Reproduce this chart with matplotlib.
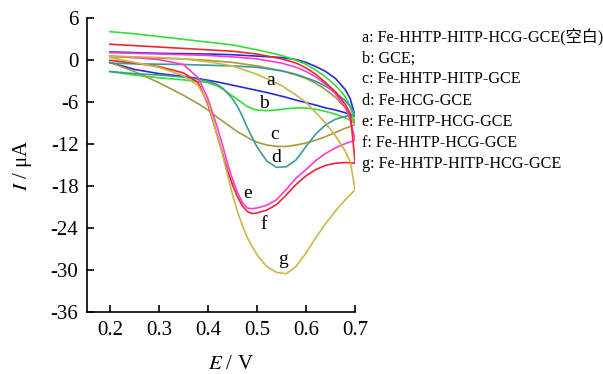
import numpy as np
import matplotlib
matplotlib.use("Agg")
from matplotlib import pyplot as plt

plt.rcParams['font.family'] = ['Liberation Serif', 'Noto Sans CJK SC']
plt.rcParams['mathtext.fontset'] = 'stix'

# forward scan (0.2 -> 0.7 V), current in uA
E_fwd = [0.20, 0.25, 0.30, 0.35, 0.40, 0.45, 0.50, 0.55, 0.58, 0.60, 0.62, 0.64, 0.66, 0.68, 0.69, 0.70]
a_fwd = [1.2, 1.1, 1.0, 0.95, 0.9, 0.8, 0.6, 0.4, 0.1, -0.3, -0.9, -1.6, -2.6, -4.2, -5.5, -8.0]
b_fwd = [4.1, 3.8, 3.4, 3.0, 2.6, 2.2, 1.5, 0.7, 0.0, -0.6, -1.4, -2.4, -3.6, -5.2, -6.6, -9.0]
c_fwd = [0.5, 0.4, 0.3, 0.2, 0.0, -0.3, -0.8, -1.5, -2.1, -2.6, -3.3, -4.2, -5.3, -6.8, -7.8, -9.2]
d_fwd = [-0.4, -0.5, -0.55, -0.6, -0.7, -0.8, -1.0, -1.5, -2.0, -2.5, -3.0, -3.7, -4.6, -5.8, -6.6, -7.8]
e_fwd = [1.1, 1.0, 0.9, 0.8, 0.7, 0.5, 0.2, -0.4, -1.0, -1.6, -2.4, -3.4, -4.8, -6.8, -8.5, -11.4]
f_fwd = [2.3, 2.1, 1.9, 1.7, 1.5, 1.3, 0.9, 0.2, -0.4, -1.1, -2.0, -3.2, -4.5, -6.3, -7.6, -14.7]
g_fwd = [0.6, 0.5, 0.4, 0.2, -0.2, -0.8, -2.0, -3.6, -5.0, -6.0, -7.5, -9.0, -10.8, -13.0, -14.5, -18.5]

# reverse scan (listed from 0.2 to 0.7, drawn back from 0.7)
E_rev = [0.20, 0.25, 0.30, 0.35, 0.38, 0.40, 0.42, 0.43, 0.44, 0.45, 0.46, 0.47, 0.48,
         0.49, 0.50, 0.52, 0.54, 0.56, 0.58, 0.60, 0.62, 0.64, 0.66, 0.68, 0.70]
a_rev = [-0.3, -1.3, -1.9, -2.3, -2.6, -2.85, -3.1, -3.25, -3.4, -3.55, -3.7, -3.85, -4.0,
         -4.15, -4.3, -4.6, -4.95, -5.3, -5.7, -6.05, -6.4, -6.8, -7.1, -7.5, -8.0]
b_rev = [-1.6, -2.1, -2.5, -2.8, -3.0, -3.2, -3.7, -4.1, -4.6, -5.1, -5.6, -6.1, -6.6,
         -6.9, -7.1, -7.2, -7.1, -6.9, -6.8, -6.8, -7.0, -7.3, -7.7, -8.2, -9.0]
c_rev = [-0.3, -1.6, -3.2, -5.0, -6.2, -7.1, -8.2, -8.7, -9.2, -9.7, -10.2, -10.6, -11.0,
         -11.4, -11.7, -12.1, -12.3, -12.3, -12.1, -11.8, -11.4, -10.9, -10.3, -9.7, -9.2]
d_rev = [-1.6, -1.9, -2.1, -2.4, -2.7, -3.0, -3.5, -4.0, -4.7, -5.5, -6.6, -8.0, -9.6,
         -11.0, -12.4, -14.4, -15.3, -15.2, -14.2, -12.3, -10.5, -9.2, -8.4, -8.0, -7.8]
e_rev = [0.6, 0.4, 0.1, -0.6, -2.5, -5.5, -9.8, -12.2, -14.8, -17.0, -18.9, -20.3, -21.1,
         -21.2, -21.1, -20.7, -19.9, -18.4, -16.8, -15.6, -14.3, -13.3, -12.5, -11.9, -11.4]
f_rev = [0.0, -0.4, -0.9, -1.8, -3.2, -6.3, -11.0, -13.4, -15.8, -17.8, -19.5, -20.8, -21.6,
         -21.9, -21.8, -21.4, -20.6, -19.2, -17.7, -16.5, -15.6, -15.0, -14.7, -14.6, -14.7]
g_rev = [0.4, -0.3, -1.0, -2.2, -3.6, -6.0, -11.0, -13.6, -16.4, -19.2, -21.6, -23.6, -25.3,
         -26.6, -27.8, -29.5, -30.3, -30.5, -29.4, -27.5, -25.3, -23.3, -21.5, -19.9, -18.5]

names = ['a', 'b', 'c', 'd', 'e', 'f', 'g']
fwd = [a_fwd, b_fwd, c_fwd, d_fwd, e_fwd, f_fwd, g_fwd]
rev = [a_rev, b_rev, c_rev, d_rev, e_rev, f_rev, g_rev]
colors = ['#2a2ad6', '#33e033', '#a59a3c', '#3c9a9a', '#ff3bd0', '#ee2630', '#c8b84a']
legend_text = ['a: Fe-HHTP-HITP-HCG-GCE(空白)', 'b: GCE;', 'c: Fe-HHTP-HITP-GCE',
               'd: Fe-HCG-GCE', 'e: Fe-HITP-HCG-GCE', 'f: Fe-HHTP-HCG-GCE',
               'g: Fe-HHTP-HITP-HCG-GCE']
label_pos = [(0.527, -2.9), (0.515, -6.2), (0.536, -10.6), (0.538, -13.9),
             (0.481, -19.0), (0.513, -23.5), (0.552, -28.4)]

fig = plt.figure(figsize=(6.03, 3.74), dpi=100)
ax = fig.add_axes([0.144, 0.165, 0.445, 0.786])

for i in range(len(names)):
    x = E_fwd + E_rev[::-1]
    y = fwd[i] + rev[i][::-1]
    ax.plot(x, y, color=colors[i], lw=1.2)
    ax.text(label_pos[i][0], label_pos[i][1], names[i], fontsize=14,
            ha='center', va='center')

ax.set_xlim(0.153, 0.70)
ax.set_ylim(-36, 6)
ax.set_xticks([0.2, 0.3, 0.4, 0.5, 0.6, 0.7])
ax.set_yticks([6, 0, -6, -12, -18, -24, -30, -36])
ax.set_yticklabels(['6', '0', '-6', '-12', '-18', '-24', '-30', '-36'])
ax.tick_params(direction='in', length=5, width=1.2, labelsize=15, pad=6)
for s in ['top', 'right']:
    ax.spines[s].set_visible(False)
for s in ['left', 'bottom']:
    ax.spines[s].set_linewidth(1.2)

ax.set_xlabel('$E$ / V', fontsize=15)
ax.set_ylabel('$I$ / μA', fontsize=15)
ax.xaxis.set_label_coords(0.537, -0.145)
ax.yaxis.set_label_coords(-0.198, 0.5)

for i, t in enumerate(legend_text):
    fig.text(0.6, 1 - (37 + 21.2 * i) / 374, t, fontsize=11.6, va='center', ha='left')

fig.savefig('out.png', dpi=100)
